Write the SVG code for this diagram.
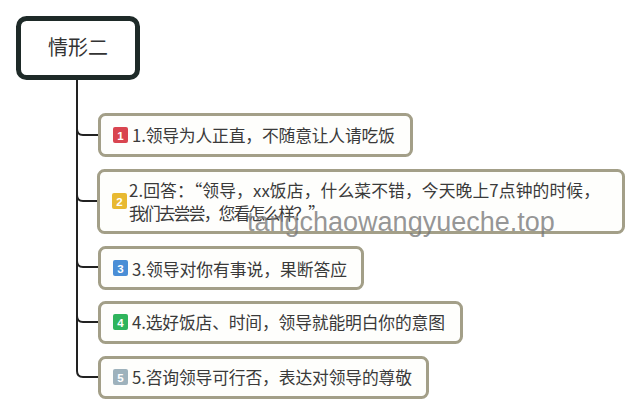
<svg xmlns="http://www.w3.org/2000/svg" width="640" height="415" viewBox="0 0 640 415">
<style>
.root{fill:#ffffff;stroke:#1e2a28;stroke-width:5}
.box{fill:#fefefc;stroke:#a39f88;stroke-width:3}
.t{font-family:"Noto Sans CJK SC","Noto Sans",sans-serif;font-size:16.8px;fill:#3a3a3a}
.rt{font-family:"Noto Sans CJK SC","Noto Sans",sans-serif;font-size:20px;fill:#333333}
.num{font-family:"Liberation Sans",Arial,sans-serif;font-size:11.5px;font-weight:bold;fill:#ffffff;text-anchor:middle}
.conn{fill:none;stroke:#222222;stroke-width:2}
.wm{font-family:"Liberation Sans",Arial,sans-serif;font-size:27px;fill:#7a7a7a;fill-opacity:0.8}
</style>
<rect width="640" height="415" fill="#ffffff"/>
<g id="connectors">
<path class="conn" d="M77,80 V371 Q77,377 83,377 H99"/>
<path class="conn" d="M77,129 Q77,135 83,135 H99"/>
<path class="conn" d="M77,195 Q77,201 83,201 H98"/>
<path class="conn" d="M77,261 Q77,267 83,267 H99"/>
<path class="conn" d="M77,316 Q77,322 83,322 H99"/>
</g>
<g id="root">
<rect class="root" x="18.5" y="18.5" width="119" height="59" rx="8"/>
<text class="rt" x="78" y="55" text-anchor="middle">情形二</text>
</g>
<g id="node1">
<rect class="box" x="99.5" y="114.5" width="312" height="41" rx="6"/>
<rect x="113" y="127" width="15" height="16" rx="2" fill="#d9454f"/>
<text class="num" x="120.5" y="139.5">1</text>
<text class="t" x="132" y="142" textLength="263" lengthAdjust="spacing">1.领导为人正直，不随意让人请吃饭</text>
</g>
<g id="node2">
<rect class="box" x="98.5" y="170.5" width="525" height="62" rx="6"/>
<rect x="112" y="193" width="15" height="16" rx="2" fill="#e8b931"/>
<text class="num" x="119.5" y="205.5">2</text>
<text class="t" x="129" y="197" textLength="471" lengthAdjust="spacing">2.回答：“领导，xx饭店，什么菜不错，今天晚上7点钟的时候，</text>
<text class="t" x="129" y="220" textLength="196" lengthAdjust="spacing">我们去尝尝，您看怎么样？”</text>
</g>
<g id="node3">
<rect class="box" x="99.5" y="247.5" width="263" height="41" rx="6"/>
<rect x="113" y="260" width="15" height="16" rx="2" fill="#4a8ed6"/>
<text class="num" x="120.5" y="272.5">3</text>
<text class="t" x="132" y="276" textLength="215" lengthAdjust="spacing">3.领导对你有事说，果断答应</text>
</g>
<g id="node4">
<rect class="box" x="99.5" y="302.5" width="362" height="40" rx="6"/>
<rect x="113" y="314" width="15" height="16" rx="2" fill="#2fb45c"/>
<text class="num" x="120.5" y="326.5">4</text>
<text class="t" x="132" y="329" textLength="313" lengthAdjust="spacing">4.选好饭店、时间，领导就能明白你的意图</text>
</g>
<g id="node5">
<rect class="box" x="99.5" y="357.5" width="328" height="40" rx="6"/>
<rect x="113" y="369" width="15" height="16" rx="2" fill="#9eb2bc"/>
<text class="num" x="120.5" y="381.5">5</text>
<text class="t" x="132" y="384" textLength="280" lengthAdjust="spacing">5.咨询领导可行否，表达对领导的尊敬</text>
</g>
<text class="wm" x="247" y="231">tangchaowangyueche.top</text>
</svg>
